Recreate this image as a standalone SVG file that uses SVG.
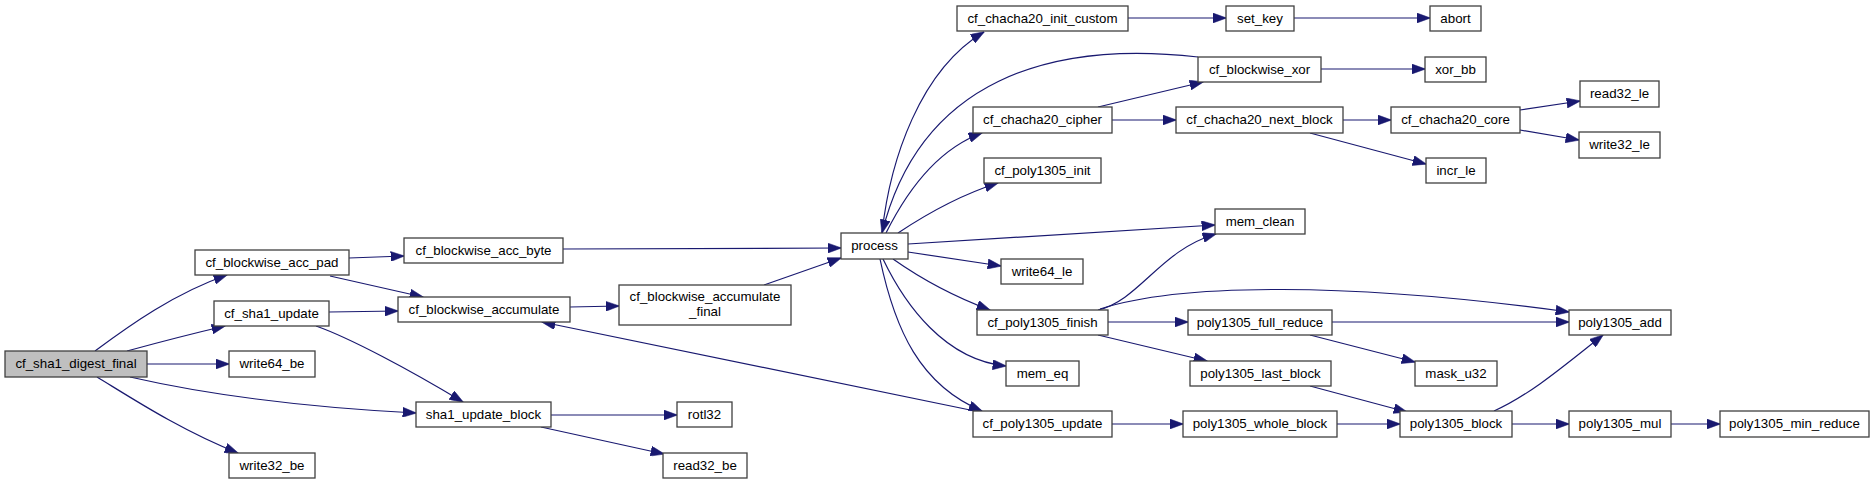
<svg xmlns="http://www.w3.org/2000/svg" width="1875" height="484" viewBox="0 0 1875 484">
<style>
.n rect{fill:#ffffff;stroke:#404040;stroke-width:1.3}
.n.root rect{fill:#bfbfbf}
.n text{font-family:"Liberation Sans",Arial,sans-serif;font-size:13.3px;fill:#000;text-anchor:middle}
.e path{fill:none;stroke:#191970;stroke-width:1.2;marker-end:url(#ah)}
</style>
<defs>
<marker id="ah" markerUnits="userSpaceOnUse" markerWidth="14" markerHeight="10" viewBox="0 0 13 9.4" refX="12.5" refY="4.7" orient="auto">
<path d="M0,0 L13,4.7 L0,9.4 z" fill="#191970" stroke="#191970" stroke-width="0.5"/>
</marker>
</defs>
<rect width="1875" height="484" fill="#ffffff"/>
<g id="edges" class="e">
<path d="M95,351 C130,325 175,293 227,275"/>
<path d="M127,351 C160,342 195,333 225,326"/>
<path d="M147,364 L229,364"/>
<path d="M97,377 C130,397 180,430 238,453"/>
<path d="M130,377 C200,393 300,407 416,413"/>
<path d="M349,258 L404,256"/>
<path d="M330,276 L423,297"/>
<path d="M329,312 L398,311"/>
<path d="M316,326 C350,338 410,370 463,402"/>
<path d="M563,249 L841,248"/>
<path d="M570,307 L619,306"/>
<path d="M764,285 L841,258"/>
<path d="M975,411 L542,322"/>
<path d="M882,233 C890,160 920,70 984,32"/>
<path d="M1198,57 C1050,40 920,80 882,233"/>
<path d="M886,233 C905,195 935,150 982,133"/>
<path d="M898,233 C925,215 960,195 998,183"/>
<path d="M908,244 L1215,225"/>
<path d="M908,252 L1001,266"/>
<path d="M893,259 C920,278 955,297 990,310"/>
<path d="M883,259 C905,305 945,360 1006,366"/>
<path d="M880,259 C895,330 920,385 982,411"/>
<path d="M1128,18 L1226,18"/>
<path d="M1294,18 L1430,18"/>
<path d="M1098,107 L1203,82"/>
<path d="M1112,120 L1176,120"/>
<path d="M1321,69 L1425,69"/>
<path d="M1343,120 L1391,120"/>
<path d="M1310,133 L1426,164"/>
<path d="M1520,110 L1580,101"/>
<path d="M1520,130 L1579,140"/>
<path d="M1098,310 C1140,300 1160,250 1216,234"/>
<path d="M1100,309 C1180,283 1350,282 1569,312"/>
<path d="M1108,322 L1188,322"/>
<path d="M1098,335 L1207,361"/>
<path d="M1332,322 L1569,322"/>
<path d="M1310,335 L1415,362"/>
<path d="M1310,386 L1407,412"/>
<path d="M1337,424 L1400,424"/>
<path d="M1112,424 L1183,424"/>
<path d="M1494,411 C1530,395 1565,365 1603,335"/>
<path d="M1512,424 L1569,424"/>
<path d="M1671,424 L1720,424"/>
<path d="M551,415 L677,415"/>
<path d="M541,427 L664,454"/>
</g>
<g id="n0" class="n root"><rect x="5" y="351" width="142" height="26"/><text x="76" y="367.5">cf_sha1_digest_final</text></g>
<g id="n1" class="n"><rect x="195" y="250" width="154" height="25"/><text x="272" y="266.5">cf_blockwise_acc_pad</text></g>
<g id="n2" class="n"><rect x="404" y="238" width="159" height="25"/><text x="483.5" y="254.5">cf_blockwise_acc_byte</text></g>
<g id="n3" class="n"><rect x="841" y="233" width="67" height="26"/><text x="874.5" y="249.5">process</text></g>
<g id="n4" class="n"><rect x="957" y="6" width="171" height="25"/><text x="1042.5" y="22.5">cf_chacha20_init_custom</text></g>
<g id="n5" class="n"><rect x="1226" y="6" width="68" height="25"/><text x="1260" y="22.5">set_key</text></g>
<g id="n6" class="n"><rect x="1430" y="6" width="51" height="25"/><text x="1455.5" y="22.5">abort</text></g>
<g id="n7" class="n"><rect x="1198" y="57" width="123" height="25"/><text x="1259.5" y="73.5">cf_blockwise_xor</text></g>
<g id="n8" class="n"><rect x="1425" y="57" width="61" height="25"/><text x="1455.5" y="73.5">xor_bb</text></g>
<g id="n9" class="n"><rect x="973" y="107" width="139" height="26"/><text x="1042.5" y="123.5">cf_chacha20_cipher</text></g>
<g id="n10" class="n"><rect x="1176" y="107" width="167" height="26"/><text x="1259.5" y="123.5">cf_chacha20_next_block</text></g>
<g id="n11" class="n"><rect x="1391" y="107" width="129" height="26"/><text x="1455.5" y="123.5">cf_chacha20_core</text></g>
<g id="n12" class="n"><rect x="1580" y="81" width="79" height="26"/><text x="1619.5" y="97.5">read32_le</text></g>
<g id="n13" class="n"><rect x="1579" y="132" width="81" height="26"/><text x="1619.5" y="148.5">write32_le</text></g>
<g id="n14" class="n"><rect x="1426" y="158" width="60" height="25"/><text x="1456" y="174.5">incr_le</text></g>
<g id="n15" class="n"><rect x="984" y="158" width="117" height="25"/><text x="1042.5" y="174.5">cf_poly1305_init</text></g>
<g id="n16" class="n"><rect x="1215" y="209" width="90" height="25"/><text x="1260" y="225.5">mem_clean</text></g>
<g id="n17" class="n"><rect x="1001" y="259" width="82" height="25"/><text x="1042" y="275.5">write64_le</text></g>
<g id="n18" class="n"><rect x="977" y="310" width="131" height="25"/><text x="1042.5" y="326.5">cf_poly1305_finish</text></g>
<g id="n19" class="n"><rect x="1188" y="310" width="144" height="25"/><text x="1260" y="326.5">poly1305_full_reduce</text></g>
<g id="n20" class="n"><rect x="1569" y="310" width="102" height="25"/><text x="1620" y="326.5">poly1305_add</text></g>
<g id="n21" class="n"><rect x="1415" y="361" width="82" height="25"/><text x="1456" y="377.5">mask_u32</text></g>
<g id="n22" class="n"><rect x="1190" y="361" width="141" height="25"/><text x="1260.5" y="377.5">poly1305_last_block</text></g>
<g id="n23" class="n"><rect x="1400" y="411" width="112" height="26"/><text x="1456" y="427.5">poly1305_block</text></g>
<g id="n24" class="n"><rect x="1183" y="411" width="154" height="26"/><text x="1260" y="427.5">poly1305_whole_block</text></g>
<g id="n25" class="n"><rect x="1569" y="411" width="102" height="26"/><text x="1620" y="427.5">poly1305_mul</text></g>
<g id="n26" class="n"><rect x="1720" y="411" width="149" height="26"/><text x="1794.5" y="427.5">poly1305_min_reduce</text></g>
<g id="n27" class="n"><rect x="1006" y="361" width="73" height="25"/><text x="1042.5" y="377.5">mem_eq</text></g>
<g id="n28" class="n"><rect x="973" y="411" width="139" height="26"/><text x="1042.5" y="427.5">cf_poly1305_update</text></g>
<g id="n29" class="n"><rect x="398" y="297" width="172" height="25"/><text x="484" y="313.5">cf_blockwise_accumulate</text></g>
<g id="n30" class="n"><rect x="619" y="285" width="172" height="40"/><text x="705" y="300.5">cf_blockwise_accumulate</text><text x="705" y="315.5">_final</text></g>
<g id="n31" class="n"><rect x="214" y="301" width="115" height="25"/><text x="271.5" y="317.5">cf_sha1_update</text></g>
<g id="n32" class="n"><rect x="229" y="351" width="86" height="26"/><text x="272" y="367.5">write64_be</text></g>
<g id="n33" class="n"><rect x="416" y="402" width="135" height="25"/><text x="483.5" y="418.5">sha1_update_block</text></g>
<g id="n34" class="n"><rect x="677" y="402" width="55" height="25"/><text x="704.5" y="418.5">rotl32</text></g>
<g id="n35" class="n"><rect x="663" y="453" width="84" height="25"/><text x="705" y="469.5">read32_be</text></g>
<g id="n36" class="n"><rect x="229" y="453" width="86" height="25"/><text x="272" y="469.5">write32_be</text></g>
</svg>
